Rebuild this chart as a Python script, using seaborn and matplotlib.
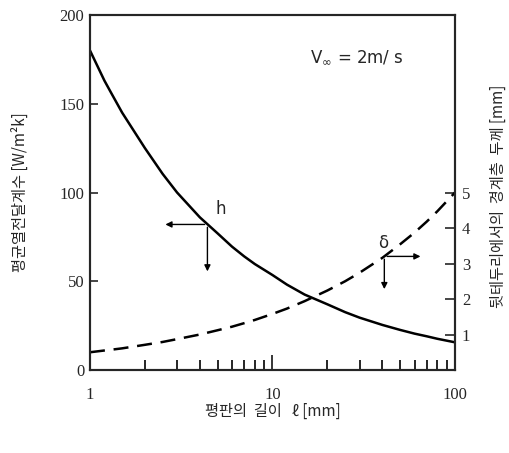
import numpy as np
import pandas as pd
import matplotlib
matplotlib.use("Agg")
import matplotlib.pyplot as plt
import matplotlib.ticker as mticker
import seaborn as sns

# --- DATA ---
length_mm = [1, 1.2, 1.3, 1.5, 2, 2.5, 3, 4, 5, 6, 7, 8, 10, 12, 15, 20, 25,
             30, 40, 50, 60, 70, 80, 100]
h_coef = [180, 163, 156.5, 145, 125, 110.5, 100, 86, 77, 69.5, 64, 59.7, 53.5,
          48.1, 42.5, 37, 32.6, 29.5, 25.4, 22.6, 20.5, 19, 17.6, 15.6]
delta_mm = [0.5, 0.55, 0.57, 0.61, 0.71, 0.79, 0.87, 1.0, 1.12, 1.22, 1.32,
            1.41, 1.58, 1.73, 1.94, 2.24, 2.5, 2.74, 3.16, 3.54, 3.87, 4.18,
            4.47, 5.0]

h_ticks = [0, 50, 100, 150, 200]
delta_ticks = [1, 2, 3, 4, 5]

df = pd.DataFrame({"l": length_mm, "h": h_coef, "delta": delta_mm})

sns.set_style("ticks")
plt.rcParams["font.family"] = ["Liberation Serif", "Noto Sans CJK KR", "DejaVu Sans"]
kfont = ["Noto Sans CJK KR", "DejaVu Sans"]

fig = plt.figure(figsize=(5.09, 4.53), dpi=100)
ax = fig.add_axes([0.1768, 0.1832, 0.7171, 0.7837])

sns.lineplot(x="l", y="h", data=df, ax=ax, color="black", lw=1.8)
ax.set_xscale("log")
ax.set_xlim(1, 100)
ax.set_ylim(0, 200)
ax.set_yticks(h_ticks)

ax2 = ax.twinx()
sns.lineplot(x="l", y="delta", data=df, ax=ax2, color="black", lw=1.8,
             linestyle=(0, (6, 3.5)))
ax2.set_ylim(0, 10)
ax2.set_yticks(delta_ticks)

# x ticks set after twinx so nothing resets them
ax.set_xlim(1, 100)
ax.xaxis.set_major_locator(mticker.FixedLocator([1, 10, 100]))
ax.xaxis.set_major_formatter(mticker.FixedFormatter(["1", "10", "100"]))
minor = [m * d for d in (1, 10) for m in range(2, 10)]
ax.xaxis.set_minor_locator(mticker.FixedLocator(minor))
ax.xaxis.set_minor_formatter(mticker.NullFormatter())
ax.tick_params(axis="x", which="major", direction="in", length=11, width=1.3,
               pad=12, labelsize=12)
ax.tick_params(axis="x", which="minor", direction="in", length=7, width=1.2,
               bottom=True, color="black")
ax.tick_params(axis="y", direction="in", length=6, width=1.2, pad=4, labelsize=12)
ax.set_xlabel("평판의  길이   ℓ [mm]", family=kfont, fontsize=11, labelpad=0)
ax.set_ylabel("평균열전달계수 [W/m²k]", family=kfont, fontsize=11, labelpad=22)
for s in ax.spines.values():
    s.set_linewidth(1.5)

ax2.tick_params(axis="y", direction="in", length=7, width=1.2, pad=5, labelsize=12)
ax2.set_ylabel("뒷테두리에서의  경계층  두께 [mm]", family=kfont, fontsize=11,
               rotation=90)
ax2.yaxis.set_label_coords(1.095, 0.49)
for s in ax2.spines.values():
    s.set_linewidth(1.5)

# annotations: h with arrows to the left axis, delta to the right axis
arrow = dict(arrowstyle="-|>", color="black", lw=1.0, mutation_scale=9)
ax.annotate("", xy=(2.5, 82), xytext=(4.4, 82), arrowprops=arrow)
ax.annotate("", xy=(4.4, 54), xytext=(4.4, 82), arrowprops=arrow)
ax.text(4.9, 88, "h", fontsize=12, family=["DejaVu Sans"])
ax2.annotate("", xy=(67, 3.2), xytext=(41, 3.2), arrowprops=arrow)
ax2.annotate("", xy=(41, 2.2), xytext=(41, 3.2), arrowprops=arrow)
ax2.text(38, 3.45, "δ", fontsize=12, family=["DejaVu Sans"])

ax.text(16, 176, "V$_\\infty$ = 2m/ s", fontsize=12, family=["DejaVu Sans"],
        va="center")

fig.savefig("out.png", dpi=100)
